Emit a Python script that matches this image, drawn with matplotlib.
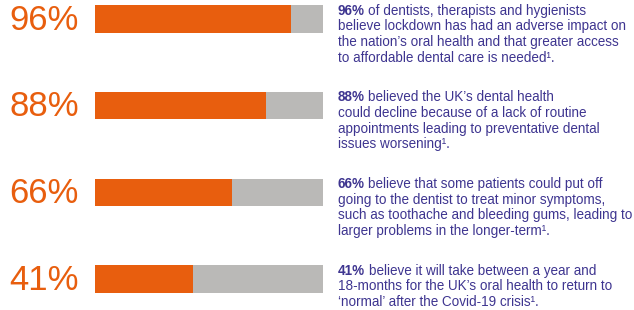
import matplotlib
matplotlib.use("Agg")
import matplotlib.pyplot as plt

# ---- data ----
percent_labels = ["96%", "88%", "66%", "41%"]
bar_fill = [86, 75, 60, 43]          # orange length as drawn in the picture (of 100)
bold_leads = ["96%", "88%", "66%", "41%"]
descriptions = [
    ["of dentists, therapists and hygienists",
     "believe lockdown has had an adverse impact on",
     "the nation\u2019s oral health and that greater access",
     "to affordable dental care is needed\u00b9."],
    ["believed the UK\u2019s dental health",
     "could decline because of a lack of routine",
     "appointments leading to preventative dental",
     "issues worsening\u00b9."],
    ["believe that some patients could put off",
     "going to the dentist to treat minor symptoms,",
     "such as toothache and bleeding gums, leading to",
     "larger problems in the longer-term\u00b9."],
    ["believe it will take between a year and",
     "18-months for the UK\u2019s oral health to return to",
     "\u2018normal\u2019 after the Covid-19 crisis\u00b9."],
]

ORANGE = "#E85E0E"
GREY = "#BAB9B7"
PURPLE = "#3E3590"
FONT = "Liberation Sans"
FS = 9.75

W, H, DPI = 634, 310, 100
fig = plt.figure(figsize=(W / DPI, H / DPI), dpi=DPI)
fig.patch.set_facecolor("white")

x0_px, x1_px = 95, 323
ax = fig.add_axes([x0_px / W, 0, (x1_px - x0_px) / W, 1])
spacing = 86.7
first_c = 19
ax.set_xlim(0, 100)
ax.set_ylim(3 + (H - (first_c + 3 * spacing)) / spacing, -first_c / spacing)
ax.axis("off")

ypos = list(range(len(percent_labels)))
bh = 27.5 / spacing
ax.barh(ypos, [100] * len(ypos), height=bh, color=GREY, linewidth=0)
ax.barh(ypos, bar_fill, height=bh, color=ORANGE, linewidth=0)

px = 72 / DPI  # points per pixel
fig.canvas.draw()
renderer = fig.canvas.get_renderer()

line_h = 15.7
for i, lab in enumerate(percent_labels):
    ax.annotate(lab, xy=(0, i), xytext=(-86 * px, -1 * px), textcoords="offset points",
                ha="left", va="center", fontsize=25, color=ORANGE, family=FONT)
    lines = descriptions[i]
    for j, ln in enumerate(lines):
        dy = -(-8.5 + j * line_h) * px
        if j == 0:
            t = ax.annotate(bold_leads[i], xy=(100, i), xytext=(15 * px, dy),
                            textcoords="offset points", ha="left", va="center",
                            fontsize=FS, color=PURPLE, family=FONT, fontweight="bold")
            bb = t.get_window_extent(renderer)
            ax.annotate(ln, xy=(100, i), xytext=(15 * px + (bb.width + 3.5) * px, dy),
                        textcoords="offset points", ha="left", va="center",
                        fontsize=FS, color=PURPLE, family=FONT)
        else:
            ax.annotate(ln, xy=(100, i), xytext=(15 * px, dy),
                        textcoords="offset points", ha="left", va="center",
                        fontsize=FS, color=PURPLE, family=FONT)

fig.savefig("out.png", dpi=DPI, facecolor="white")
